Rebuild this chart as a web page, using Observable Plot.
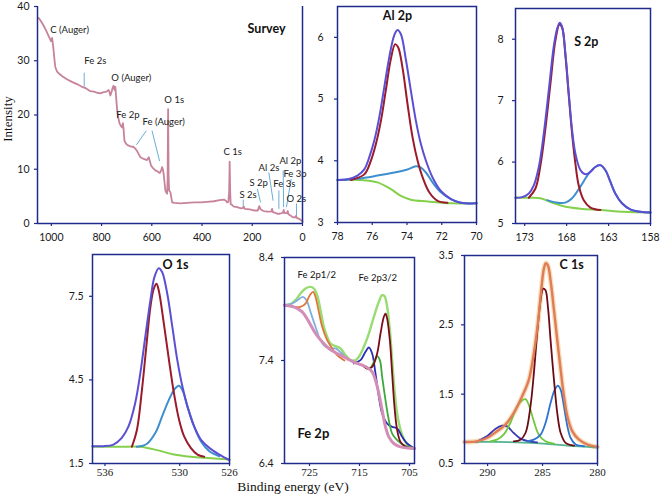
<!DOCTYPE html>
<html><head><meta charset="utf-8">
<script src="https://cdn.jsdelivr.net/npm/d3@7"></script>
<script src="https://cdn.jsdelivr.net/npm/@observablehq/plot@0.6"></script>
<style>
html,body{margin:0;padding:0;background:#fff;}
#root{position:relative;width:661px;height:494px;overflow:hidden;}
.panel{position:absolute;}
.lab{position:absolute;white-space:nowrap;color:#111;}
</style></head><body><div id="root"></div>
<script>
// ---------- Survey ----------
const surveyTicksX = [1000, 800, 600, 400, 200, 0];
const surveyTicksY = [0, 10, 20, 30, 40];
const survey = [[1050,37.9],[1040,37.2],[1031,36.5],[1020,35.5],[1011,34.6],[1004,33.9],[1001,33.6],[997,34.2],[994,33.2],[991,31.9],[987,30.0],[984,28.8],[977,28.0],[971,27.7],[955,27.1],[938,26.6],[918,26.1],[898,25.7],[878,25.2],[866,25.0],[858,24.8],[845,24.4],[830,24.3],[818,24.1],[805,24.0],[792,24.2],[780,24.3],[772,24.6],[768,24.2],[765,23.6],[760,24.3],[756,25.0],[752,25.4],[748,24.6],[745,25.2],[741,22.7],[738,21.0],[736,20.2],[732,19.2],[728,18.4],[722,17.9],[718,17.7],[715,18.5],[712,17.2],[709,15.3],[704,14.8],[698,14.5],[685,14.2],[672,14.1],[664,13.7],[658,13.3],[651,12.7],[645,12.2],[632,11.9],[619,11.7],[612,12.2],[606,11.2],[603,10.7],[595,10.2],[586,9.8],[577,9.6],[568,9.3],[562,9.9],[559,10.4],[556,10.0],[553,9.2],[549,7.5],[546,6.1],[542,5.7],[539,5.5],[537,8.0],[535,21.1],[533,8.5],[531,6.1],[528,5.9],[526,5.8],[523,5.0],[519,3.9],[510,3.8],[486,3.7],[460,3.8],[430,3.9],[406,3.9],[380,4.0],[353,4.1],[330,4.3],[313,4.4],[305,4.2],[300,3.9],[295,4.0],[292,6.0],[290,11.4],[288,6.0],[286,3.6],[280,3.4],[273,3.1],[260,3.0],[245,2.8],[236,2.9],[234,3.1],[230,2.7],[210,2.6],[194,2.4],[178,2.4],[172,3.2],[168,2.7],[160,2.4],[154,2.3],[140,2.2],[124,2.2],[121,2.7],[118,2.1],[105,1.9],[101,1.8],[90,1.8],[78,2.0],[75,2.5],[72,1.9],[62,1.9],[59,2.3],[56,1.7],[45,1.4],[41,1.2],[30,1.1],[26,1.4],[22,1.0],[15,0.9],[8,0.7],[0,0.4]];
const surveyLabels = [
  {x:1004,y:35.7,t:"C (Auger)"},{x:869,y:30.0,t:"Fe 2s"},{x:761,y:26.9,t:"O (Auger)"},
  {x:550,y:22.7,t:"O 1s"},{x:741,y:20.1,t:"Fe 2p"},{x:637,y:18.8,t:"Fe (Auger)"},
  {x:315,y:13.1,t:"C 1s"},{x:251,y:5.2,t:"S 2s"},{x:211,y:7.4,t:"S 2p"},
  {x:175,y:10.3,t:"Al 2s"},{x:92,y:11.6,t:"Al 2p"},{x:116,y:7.2,t:"Fe 3s"},
  {x:76,y:9.2,t:"Fe 3p"},{x:64,y:4.6,t:"O 2s"}
];
const surveyLeaders = [
  [869,27.8,869,25.2],[622,17.1,661,14.5],[599,17.1,569,11.5],[236,4.4,236,2.9],
  [180,6.4,167,3.9],[134,9.4,117,4.2],[77,9.8,75,3.0],[94,6.1,94,2.7],
  [45,8.2,64,3.0],[24,3.7,24,1.2]
];

// ---------- Al 2p ----------
const alTicksX = [78, 76, 74, 72, 70];
const alTicksY = [3, 4, 5, 6];
const alEnv = [[78,3.69],[77.42,3.70],[76.85,3.76],[76.46,3.86],[76.18,4.05],[75.89,4.32],[75.6,4.70],[75.31,5.19],[75.02,5.68],[74.74,6.03],[74.55,6.12],[74.35,6.05],[74.07,5.65],[73.78,5.14],[73.49,4.65],[73.2,4.27],[72.91,4.0],[72.53,3.73],[72.05,3.51],[71.47,3.38],[70.9,3.32],[70,3.31]];
const alRed = [[77.23,3.69],[76.46,3.78],[76.08,4.0],[75.79,4.27],[75.5,4.65],[75.22,5.14],[74.93,5.65],[74.68,5.89],[74.51,5.84],[74.26,5.51],[73.97,4.92],[73.68,4.38],[73.39,4.0],[73.1,3.73],[72.72,3.49],[72.24,3.35],[71.67,3.32]];
const alBlue = [[78,3.69],[76.85,3.71],[75.7,3.76],[74.74,3.81],[73.97,3.86],[73.49,3.91],[73.2,3.89],[72.91,3.81],[72.53,3.65],[72.05,3.49],[71.47,3.38],[70.9,3.32],[70,3.31]];
const alGreen = [[78,3.69],[76.66,3.69],[75.7,3.65],[74.93,3.54],[74.35,3.43],[73.78,3.37],[72.82,3.34],[71.47,3.31],[70,3.31]];

// ---------- S 2p ----------
const sTicksX = [173, 168, 163, 158];
const sTicksY = [5, 6, 7, 8];
const sEnv = [[174.1,5.42],[173.31,5.43],[172.51,5.49],[171.92,5.62],[171.32,5.92],[170.73,6.46],[170.13,7.17],[169.54,7.88],[169.14,8.17],[168.82,8.27],[168.54,8.2],[168.15,7.77],[167.75,7.12],[167.35,6.52],[166.96,6.14],[166.36,5.87],[165.77,5.80],[165.17,5.84],[164.58,5.92],[163.98,5.95],[163.39,5.87],[162.79,5.68],[162.2,5.49],[161.4,5.33],[160.41,5.23],[159.22,5.19],[158,5.18]];
const sRed = [[172.51,5.42],[171.72,5.57],[171.12,5.95],[170.53,6.55],[169.93,7.28],[169.34,7.98],[168.86,8.24],[168.54,8.19],[168.15,7.74],[167.75,7.09],[167.35,6.46],[166.96,5.98],[166.56,5.62],[165.96,5.38],[165.17,5.26],[163.98,5.22]];
const sBlue = [[170.33,5.38],[169.14,5.34],[168.15,5.34],[167.35,5.41],[166.36,5.6],[165.37,5.81],[164.58,5.92],[163.98,5.95],[163.39,5.87],[162.79,5.68],[162.2,5.49],[161.4,5.33],[160.41,5.23],[159.22,5.19],[158,5.18]];
const sGreen = [[174.1,5.42],[172.31,5.42],[171.12,5.41],[169.93,5.35],[168.35,5.28],[166.36,5.24],[163.98,5.22],[161.2,5.19],[158,5.18]];

// ---------- O 1s ----------
const oTicksX = [536, 530, 526];
const oTicksY = [1.5, 4.5, 7.5];
const oEnv = [[537,2.12],[536.14,2.12],[535.32,2.18],[534.65,2.42],[534.11,2.83],[533.57,3.67],[533.16,4.74],[532.76,6.05],[532.35,7.36],[532.03,8.19],[531.68,8.51],[531.41,8.37],[531.0,7.6],[530.59,6.4],[530.19,5.21],[529.78,4.26],[529.38,3.55],[528.84,2.83],[528.3,2.36],[527.62,2.06],[526.81,1.82],[526,1.62]];
const oRed = [[533.84,2.1],[533.43,2.71],[533.03,4.14],[532.68,5.69],[532.35,7.12],[532.08,7.77],[531.86,7.95],[531.68,7.71],[531.27,6.52],[530.86,5.21],[530.46,4.02],[530.05,3.07],[529.65,2.48],[529.11,2.06],[528.57,1.82],[528.03,1.74]];
const oBlue = [[533.43,2.1],[532.62,2.21],[531.95,2.6],[531.41,3.19],[530.86,3.79],[530.41,4.17],[530.05,4.29],[529.73,4.08],[529.38,3.55],[528.84,2.83],[528.3,2.3],[527.62,1.94],[526.81,1.76]];
const oGreen = [[537,2.1],[534.78,2.1],[533.16,2.1],[531.81,1.98],[530.46,1.82],[529.11,1.74],[527.49,1.69],[526,1.64]];

// ---------- Fe 2p ----------
const feTicksX = [725, 715, 705];
const feTicksY = [6.4, 7.4, 8.4];
const feEnv = [[730,7.937],[728.8,7.947],[727.8,7.986],[726.8,8.05],[725.8,8.099],[724.8,8.115],[724.13,8.099],[723.47,8.034],[722.8,7.889],[722.13,7.727],[721.47,7.63],[720.8,7.565],[719.8,7.539],[718.8,7.517],[717.8,7.452],[716.8,7.403],[715.8,7.403],[715.13,7.436],[714.13,7.533],[713.13,7.662],[712.13,7.824],[711.13,7.97],[710.47,8.034],[710,8.025],[709.47,7.921],[708.93,7.695],[708.47,7.403],[708,7.112],[707.47,6.885],[706.67,6.707],[705.8,6.61],[704.8,6.562],[704,6.546]];
const feMaroon = [[715.8,7.38],[714.47,7.355],[713.47,7.322],[712.47,7.339],[711.47,7.468],[710.8,7.662],[710.13,7.824],[709.8,7.856],[709.47,7.808],[708.93,7.597],[708.47,7.274],[708,6.95],[707.47,6.724],[706.8,6.61],[705.8,6.562],[704,6.546]];
const feOrange = [[730,7.937],[728.13,7.921],[726.8,7.921],[725.8,7.953],[724.93,8.034],[724.27,8.067],[723.8,8.018],[723.13,7.872],[722.47,7.727],[721.47,7.597],[720.47,7.517],[719.47,7.452],[718,7.40]];
const feLightBlue = [[730,7.937],[728.47,7.953],[727.13,7.995],[726.33,8.018],[725.6,7.986],[724.8,7.872],[723.8,7.727],[722.8,7.597],[721.8,7.533],[720.8,7.517],[719.8,7.517],[718.8,7.48],[717.8,7.43]];
const feNavy = [[716.13,7.371],[714.8,7.403],[713.8,7.484],[713.13,7.526],[712.47,7.468],[711.8,7.274],[711.13,7.047],[710.47,6.885],[709.47,6.788],[708.47,6.756],[707.47,6.74],[706.47,6.659],[705.47,6.594],[704,6.546]];
const feGreen = [[713.47,7.322],[712.8,7.329],[712.13,7.387],[711.47,7.442],[710.93,7.403],[710.47,7.241],[709.8,7.015],[709.13,6.821],[708.47,6.691],[707.47,6.627],[706.13,6.578],[704,6.546]];
const fePink = [[730,7.937],[728.13,7.921],[726.47,7.872],[725.13,7.775],[723.8,7.662],[722.47,7.581],[721.13,7.517],[719.47,7.468],[717.47,7.419],[715.8,7.377],[714.47,7.355],[713.47,7.332],[712.47,7.29],[711.8,7.209],[711.13,7.08],[710.47,6.918],[709.8,6.756],[709.13,6.659],[708.13,6.594],[706.8,6.562],[704,6.546]];

// ---------- C 1s ----------
const cTicksX = [290, 285, 280];
const cTicksY = [0.5, 1.5, 2.5, 3.5];
const cEnv = [[292.1,0.811],[290.98,0.82],[290.06,0.868],[289.15,0.964],[288.38,1.06],[287.62,1.227],[286.86,1.467],[286.25,1.706],[285.79,2.089],[285.43,2.519],[285.12,2.998],[284.88,3.309],[284.7,3.39],[284.51,3.356],[284.27,3.141],[283.96,2.711],[283.66,2.28],[283.35,1.849],[283.05,1.467],[282.74,1.179],[282.29,0.964],[281.68,0.844],[280.91,0.773],[280,0.739]];
const cMaroon = [[287.62,0.82],[287.01,0.844],[286.55,0.94],[286.1,1.323],[285.79,1.801],[285.49,2.376],[285.18,2.854],[284.94,3.022],[284.73,2.998],[284.51,2.758],[284.27,2.28],[283.96,1.706],[283.66,1.227],[283.35,0.94],[282.9,0.797],[282.13,0.758]];
const cBlue = [[286.4,0.82],[285.79,0.844],[285.18,0.916],[284.73,1.084],[284.27,1.371],[283.9,1.562],[283.6,1.624],[283.35,1.562],[283.05,1.323],[282.74,1.036],[282.44,0.868],[281.98,0.773],[281.22,0.749]];
const cGreen = [[289.76,0.82],[289.15,0.844],[288.54,0.916],[287.93,1.084],[287.32,1.323],[286.86,1.409],[286.55,1.428],[286.25,1.347],[285.79,1.108],[285.34,0.916],[284.73,0.82],[283.96,0.787]];
const cNavy = [[290.98,0.816],[290.06,0.892],[289.3,0.998],[288.69,1.045],[288.23,1.036],[287.62,0.94],[287.01,0.859],[286.25,0.82],[285.49,0.806]];
const cBase = [[292.1,0.811],[289.76,0.811],[287.32,0.806],[284.88,0.787],[282.74,0.758],[280,0.73]];

// ---------- drawing ----------
const NAVY = "#1f2a8a";
const SANS = "Lato, 'Open Sans', sans-serif";
const SERIF = "'Liberation Serif', 'DejaVu Serif', serif";
const root = document.getElementById("root");

function ln(data, stroke, w = 2, curve = "catmull-rom") {
  return Plot.line(data, {x: d => d[0], y: d => d[1], stroke, strokeWidth: w, curve, strokeLinejoin: "round", strokeLinecap: "round"});
}

function panel(c) {
  const ml = 40, mr = 10, mt = 10, mb = 28;
  const w = c.r - c.l, h = c.b - c.t;
  const frame = c.openTop
    ? [Plot.ruleX(c.xDomain, {stroke: NAVY, strokeWidth: 1.5}), Plot.ruleY([c.yDomain[0]], {stroke: NAVY, strokeWidth: 1.5})]
    : [Plot.frame({stroke: NAVY, strokeWidth: 1.5})];
  const svg = Plot.plot({
    width: w + ml + mr, height: h + mt + mb,
    marginLeft: ml, marginRight: mr, marginTop: mt, marginBottom: mb,
    x: {domain: c.xDomain}, y: {domain: c.yDomain},
    style: {background: "transparent", overflow: "visible"},
    marks: [
      ...c.marks,
      ...frame,
      Plot.axisX(c.xTicks, {anchor: "bottom", tickSize: 3, tickPadding: c.xPad, stroke: NAVY, strokeWidth: 1.2, fill: "#1a1a1a",
        fontSize: c.xFontSize, fontFamily: c.xFont, label: null, tickFormat: d => String(d)}),
      Plot.axisY(c.yTicks, {anchor: "left", tickSize: 3, tickPadding: c.yPad, stroke: NAVY, strokeWidth: 1.2, fill: "#1a1a1a",
        fontSize: 10.5, fontFamily: SANS, label: null, tickFormat: d => String(d)})
    ]
  });
  const div = document.createElement("div");
  div.className = "panel";
  div.style.left = (c.l - ml) + "px";
  div.style.top = (c.t - mt) + "px";
  div.appendChild(svg);
  root.appendChild(div);
}

function title(x, y, t, opts = {}) {
  return Plot.text([t], {x: () => x, y: () => y, text: d => d, fontFamily: SANS, fontWeight: "bold", fontSize: 12.5, fill: "#111", ...opts});
}

const ENV = "#5b4fd3", RED = "#9a1b2b", BLUE = "#3e8fcf", GREEN = "#84cf4c";

// Survey
panel({l: 37, r: 302, t: 6, b: 223, xDomain: [1055, 0], yDomain: [0, 40], xTicks: surveyTicksX, yTicks: surveyTicksY,
  xPad: 7, yPad: 5, xFont: SANS, xFontSize: 10.5, openTop: true,
  marks: [
    Plot.link(surveyLeaders, {x1: d => d[0], y1: d => d[1], x2: d => d[2], y2: d => d[3], stroke: "#6aaed6", strokeWidth: 1}),
    ln(survey, "#c7839b", 1.8, "linear"),
    Plot.text(surveyLabels, {x: "x", y: "y", text: "t", textAnchor: "start", fontFamily: SANS, fontSize: 9.5, fill: "#1a1a1a"}),
    title(143, 35.9, "Survey")
  ]});

// Al 2p
panel({l: 337, r: 476, t: 6, b: 222, xDomain: [78, 70], yDomain: [3, 6.5], xTicks: alTicksX, yTicks: alTicksY,
  xPad: 7, yPad: 11, xFont: SANS, xFontSize: 10.5,
  marks: [ln(alGreen, GREEN), ln(alBlue, BLUE), ln(alRed, RED), ln(alEnv, ENV), title(74.55, 6.34, "Al 2p")]});

// S 2p
panel({l: 515, r: 650, t: 8, b: 223, xDomain: [174.1, 158], yDomain: [5, 8.5], xTicks: sTicksX, yTicks: sTicksY,
  xPad: 7, yPad: 9, xFont: SANS, xFontSize: 10.5,
  marks: [ln(sGreen, GREEN), ln(sBlue, BLUE), ln(sRed, RED), ln(sEnv, ENV), title(167.1, 7.95, "S 2p", {textAnchor: "start"})]});

// O 1s
panel({l: 92, r: 229, t: 254, b: 463, xDomain: [537, 526], yDomain: [1.5, 9], xTicks: oTicksX, yTicks: oTicksY,
  xPad: 2, yPad: 6, xFont: SERIF, xFontSize: 11,
  marks: [ln(oGreen, GREEN), ln(oBlue, BLUE), ln(oRed, RED), ln(oEnv, ENV), title(530.34, 8.64, "O 1s")]});

// Fe 2p
panel({l: 284, r: 414, t: 257, b: 463, xDomain: [730, 704], yDomain: [6.4, 8.4], xTicks: feTicksX, yTicks: feTicksY,
  xPad: 2, yPad: 8, xFont: SERIF, xFontSize: 11,
  marks: [
    ln(feEnv, "#98dc72", 2.4), ln(feLightBlue, "#82aede", 1.8), ln(feOrange, "#e0763a", 1.8),
    ln(feNavy, "#2b2fb5", 1.8), ln(feGreen, "#3ea83c", 1.8), ln(feMaroon, "#7b0d1b", 1.8),
    ln(fePink, "#d38db6", 3),
    title(727.4, 8.235, "Fe 2p1/2", {textAnchor: "start", fontWeight: "normal", fontSize: 9.5}),
    title(715.2, 8.2, "Fe 2p3/2", {textAnchor: "start", fontWeight: "normal", fontSize: 9.5}),
    title(727.4, 6.69, "Fe 2p", {textAnchor: "start", fontSize: 13})
  ]});

// C 1s
panel({l: 464, r: 597, t: 255, b: 463, xDomain: [292.1, 280], yDomain: [0.5, 3.5], xTicks: cTicksX, yTicks: cTicksY,
  xPad: 2, yPad: 8, xFont: SERIF, xFontSize: 11,
  marks: [
    ln(cEnv, "#f6dfbd", 5), ln(cBase, "#52b38d", 1.8), ln(cNavy, "#3d3ab5", 1.8), ln(cGreen, "#6fc93c", 1.8),
    ln(cBlue, "#2f73d2", 1.8), ln(cMaroon, "#6b0b17", 1.8), ln(cEnv, "#e07c56", 2.4),
    title(283.45, 3.36, "C 1s", {textAnchor: "start"})
  ]});

// Shared axis labels
const yl = document.createElement("div");
yl.className = "lab";
yl.textContent = "Intensity";
yl.style.cssText += "left:8px;top:119px;font-family:" + SERIF + ";font-size:13px;transform:translate(-50%,-50%) rotate(-90deg);";
root.appendChild(yl);
const xl = document.createElement("div");
xl.className = "lab";
xl.textContent = "Binding energy (eV)";
xl.style.cssText += "left:293px;top:487px;font-family:" + SERIF + ";font-size:13.5px;line-height:14px;transform:translate(-50%,-50%);";
root.appendChild(xl);
</script></body></html>
